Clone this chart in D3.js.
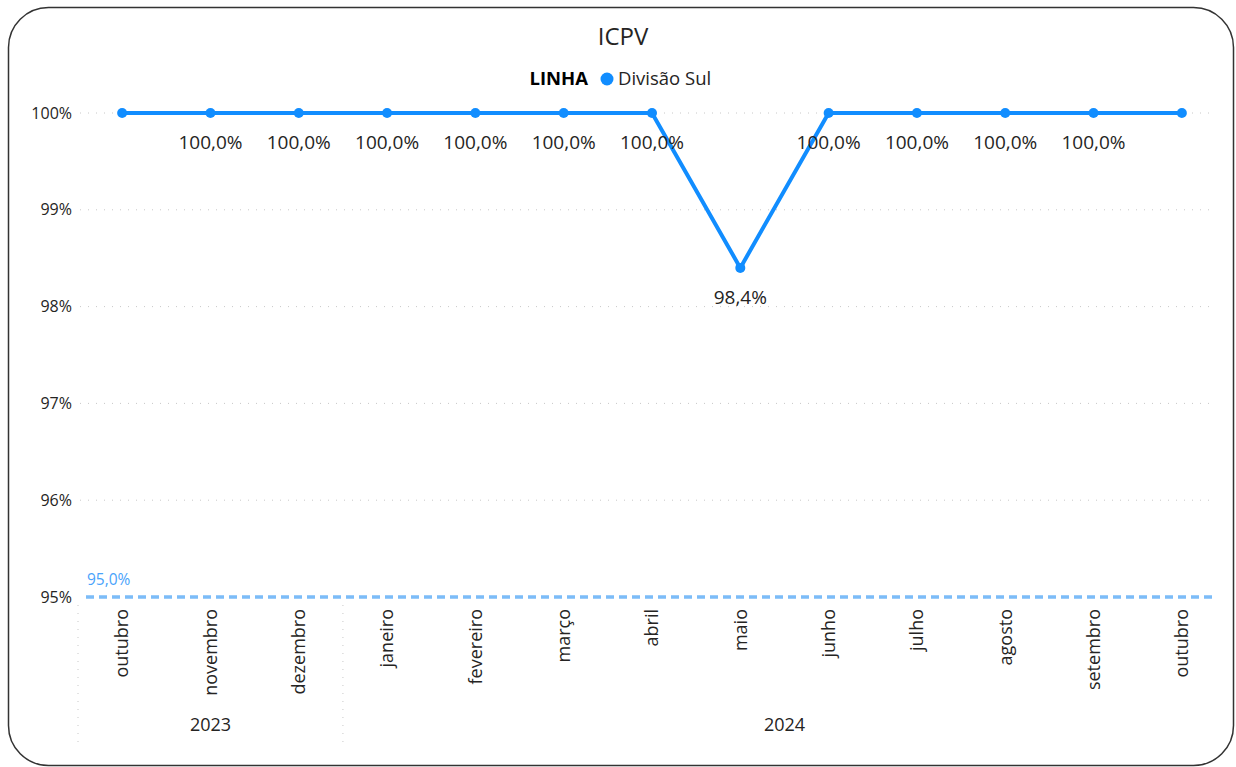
<!DOCTYPE html>
<html>
<head>
<meta charset="utf-8">
<script src="https://cdn.jsdelivr.net/npm/d3@7"></script>
<style>
body { margin: 0; background: #fff; font-family: "Segoe UI", "Open Sans", sans-serif; }
svg text { font-family: "Segoe UI", "Open Sans", sans-serif; }
</style>
</head>
<body>
<script>
// data
var months = ["outubro", "novembro", "dezembro", "janeiro", "fevereiro", "março", "abril", "maio", "junho", "julho", "agosto", "setembro", "outubro"];
var years = ["2023", "2023", "2023", "2024", "2024", "2024", "2024", "2024", "2024", "2024", "2024", "2024", "2024"];
var values = [100, 100, 100, 100, 100, 100, 100, 98.4, 100, 100, 100, 100, 100];
var showLabel = [false, true, true, true, true, true, true, true, true, true, true, true, false];
var yTicks = [95, 96, 97, 98, 99, 100];
var target = 95;

var width = 1236, height = 767;
var fmt = function(v){ return d3.format(".1f")(v).replace(".", ",") + "%"; };

var svg = d3.select("body").append("svg")
	.attr("width", width)
	.attr("height", height);

// card border
svg.append("rect")
	.attr("x", 8.5).attr("y", 7.5)
	.attr("width", 1225).attr("height", 758)
	.attr("rx", 40).attr("ry", 40)
	.attr("fill", "#fff")
	.attr("stroke", "#333").attr("stroke-width", 1.5);

var keys = months.map(function(m, i){ return i; });
var x = d3.scaleBand().domain(keys).range([78, 1226]);
var y = d3.scaleLinear().domain([95, 100]).range([597, 113]);
var cx = function(i){ return x(i) + x.bandwidth() / 2; };

// gridlines
svg.append("g").selectAll("line")
	.data(yTicks.filter(function(t){ return t != target; }))
	.enter().append("line")
	.attr("x1", 80).attr("x2", 1215)
	.attr("y1", function(d){ return y(d); }).attr("y2", function(d){ return y(d); })
	.attr("stroke", "#c8c8c8").attr("stroke-width", 1)
	.attr("stroke-dasharray", "1,7");

// y axis labels
svg.append("g").selectAll("text")
	.data(yTicks)
	.enter().append("text")
	.attr("x", 72)
	.attr("y", function(d){ return y(d); })
	.attr("dy", "0.35em")
	.attr("text-anchor", "end")
	.attr("font-size", 16)
	.attr("fill", "#252423")
	.text(function(d){ return d + "%"; });

// target line
svg.append("line")
	.attr("x1", 86).attr("x2", 1215)
	.attr("y1", y(target)).attr("y2", y(target))
	.attr("stroke", "#7cbcf8").attr("stroke-width", 3.5)
	.attr("stroke-dasharray", "8,5");
svg.append("text")
	.attr("x", 87).attr("y", y(target) - 12)
	.attr("font-size", 15.5)
	.attr("fill", "#4aa3fb")
	.text(fmt(target));

// x axis month labels
svg.append("g").selectAll("text")
	.data(keys)
	.enter().append("text")
	.attr("transform", function(d){ return "translate(" + cx(d) + ",609) rotate(-90)"; })
	.attr("dy", "0.35em")
	.attr("text-anchor", "end")
	.attr("font-size", 18)
	.attr("fill", "#252423")
	.text(function(d){ return months[d]; });

// year groups
var yearGroups = d3.groups(keys, function(d){ return years[d]; });
var sepX = [x(0)];
yearGroups.forEach(function(g){
	var first = g[1][0], last = g[1][g[1].length - 1];
	var x0 = x(first), x1 = x(last) + x.bandwidth();
	svg.append("text")
		.attr("x", (x0 + x1) / 2).attr("y", 731)
		.attr("text-anchor", "middle")
		.attr("font-size", 18)
		.attr("fill", "#252423")
		.text(g[0]);
	if (x1 < 1200) sepX.push(x1);
});
svg.append("g").selectAll("line")
	.data(sepX)
	.enter().append("line")
	.attr("x1", function(d){ return d; }).attr("x2", function(d){ return d; })
	.attr("y1", 605).attr("y2", 742)
	.attr("stroke", "#c8c8c8").attr("stroke-dasharray", "1,7");

// line
var line = d3.line()
	.x(function(d, i){ return cx(i); })
	.y(function(d){ return y(d); });

svg.append("path")
	.datum(values)
	.attr("fill", "none")
	.attr("stroke", "#118dff")
	.attr("stroke-width", 4)
	.attr("d", line);

svg.append("g").selectAll("circle")
	.data(values)
	.enter().append("circle")
	.attr("cx", function(d, i){ return cx(i); })
	.attr("cy", function(d){ return y(d); })
	.attr("r", 5)
	.attr("fill", "#118dff");

// data labels
var labelData = keys.filter(function(i){ return showLabel[i]; });
svg.append("g").selectAll("text")
	.data(labelData)
	.enter().append("text")
	.attr("x", function(i){ return cx(i); })
	.attr("y", function(i){ return y(values[i]) + 29; })
	.attr("dy", "0.35em")
	.attr("text-anchor", "middle")
	.attr("font-size", 19)
	.attr("fill", "#252423")
	.text(function(i){ return fmt(values[i]); });

// title + legend
svg.append("text")
	.attr("x", 623).attr("y", 37)
	.attr("dy", "0.35em")
	.attr("text-anchor", "middle")
	.attr("font-size", 24)
	.attr("fill", "#252423")
	.text("ICPV");

var legend = svg.append("g");
legend.append("text")
	.attr("x", 588).attr("y", 79)
	.attr("dy", "0.35em")
	.attr("text-anchor", "end")
	.attr("font-size", 18.5).attr("font-weight", "bold")
	.attr("fill", "#000")
	.text("LINHA");
legend.append("circle")
	.attr("cx", 607).attr("cy", 79).attr("r", 6.5)
	.attr("fill", "#118dff");
legend.append("text")
	.attr("x", 618).attr("y", 79)
	.attr("dy", "0.35em")
	.attr("font-size", 18.5)
	.attr("fill", "#252423")
	.text("Divisão Sul");
</script>
</body>
</html>
